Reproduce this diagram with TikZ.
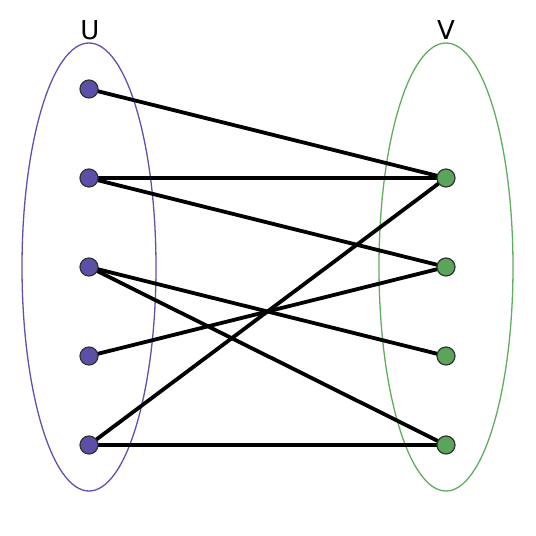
\documentclass[tikz,border=0pt]{standalone}
\usepackage{fontspec}
\setmainfont{DejaVu Sans}
\definecolor{ublue}{HTML}{5B4FA8}
\definecolor{uline}{HTML}{5D52B0}
\definecolor{vgreen}{HTML}{5AA55A}
\definecolor{vline}{HTML}{5FAE5F}
\begin{document}
\begin{tikzpicture}[x=1pt,y=-1pt,
  unode/.style={circle,draw=black!80,line width=1.2pt,fill=ublue,minimum size=18pt,inner sep=0pt},
  vnode/.style={circle,draw=black!80,line width=1.2pt,fill=vgreen,minimum size=18pt,inner sep=0pt},
  edge/.style={line width=3.8pt,black},
  lbl/.style={font=\fontsize{26}{26}\selectfont,inner sep=0pt}]
\useasboundingbox (0,0) rectangle (536,536);
\draw[uline,line width=1.3pt] (89,267) ellipse [x radius=67,y radius=224];
\draw[vline,line width=1.3pt] (446,267) ellipse [x radius=67,y radius=224];
\node[lbl] (lu) at (90,30) {U};
\node[lbl] (lv) at (446,30) {V};
\coordinate (u1) at (89,89);
\coordinate (u2) at (89,178);
\coordinate (u3) at (89,267);
\coordinate (u4) at (89,356);
\coordinate (u5) at (89,445);
\coordinate (v2) at (446,178);
\coordinate (v3) at (446,267);
\coordinate (v4) at (446,356);
\coordinate (v5) at (446,445);
\draw[edge] (u1) -- (v2);
\draw[edge] (u2) -- (v2);
\draw[edge] (u2) -- (v3);
\draw[edge] (u3) -- (v4);
\draw[edge] (u3) -- (v5);
\draw[edge] (u4) -- (v3);
\draw[edge] (u5) -- (v2);
\draw[edge] (u5) -- (v5);
\foreach \n in {u1,u2,u3,u4,u5} \node[unode] at (\n) {};
\foreach \n in {v2,v3,v4,v5} \node[vnode] at (\n) {};
\end{tikzpicture}
\end{document}
